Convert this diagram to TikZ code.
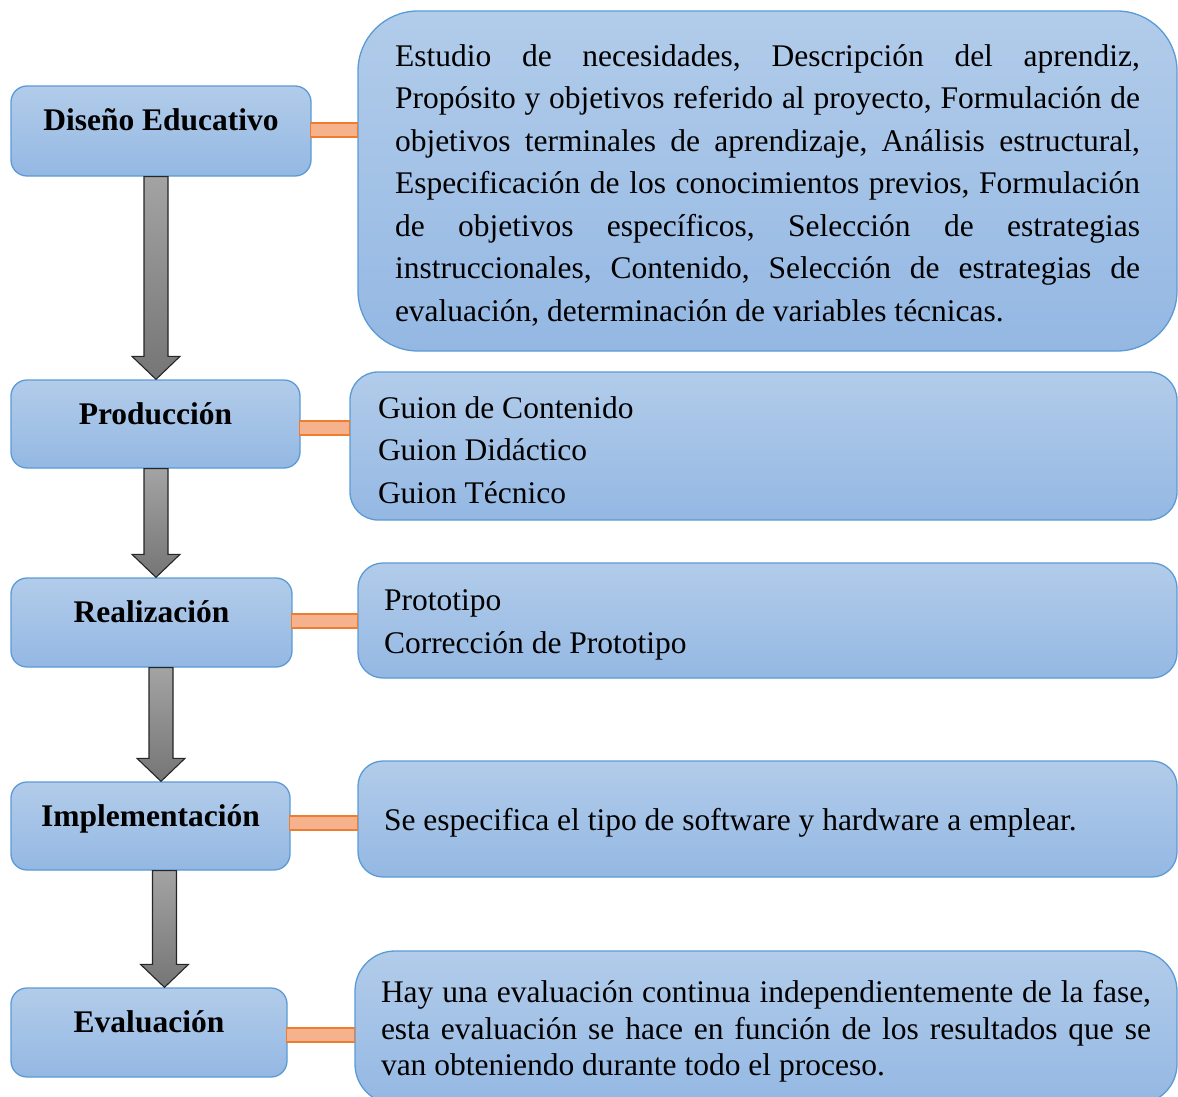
\documentclass[tikz,border=0pt]{standalone}
\usepackage{fontspec}
\setmainfont{Liberation Serif}
\usetikzlibrary{calc}
\definecolor{boxtop}{RGB}{178,204,234}
\definecolor{boxbottom}{RGB}{148,184,227}
\definecolor{boxline}{RGB}{91,155,213}
\definecolor{linkfill}{RGB}{245,178,140}
\definecolor{linkline}{RGB}{237,125,49}
\newcommand{\boxfont}{\fontsize{31.5pt}{42.5pt}\selectfont}
\setlength{\parindent}{0pt}
\tolerance=10000
\hyphenpenalty=10000
\frenchspacing

\begin{document}
\begin{tikzpicture}[x=1pt,y=-1pt,
  phase/.style={draw=boxline,line width=1.3pt,rounded corners=16pt,top color=boxtop,bottom color=boxbottom,
    font=\boxfont\bfseries,text height=20pt,text depth=20pt,inner sep=0pt},
  detail/.style={draw=boxline,line width=1.3pt,top color=boxtop,bottom color=boxbottom,
    font=\boxfont,align=flush left,inner ysep=0pt,execute at begin node={\rule{0pt}{30pt}}},
  link/.style={draw=linkline,fill=linkfill,line width=1.2pt},
  flow/.style={draw=black!85,line width=1.1pt,top color=black!36,bottom color=black!54}]
  \useasboundingbox (0,0) rectangle (1178,1097);
  \clip (0,0) rectangle (1178,1097);

  % fases
  \node[phase,minimum width=300pt,minimum height=90pt] (diseno) at (161,131) {Diseño Educativo};
  \node[phase,minimum width=289pt,minimum height=88pt] (produccion) at (155.5,424) {Producción};
  \node[phase,minimum width=281pt,minimum height=89pt] (realizacion) at (151.5,622.5) {Realización};
  \node[phase,minimum width=279pt,minimum height=88pt] (implementacion) at (150.5,826) {Implementación};
  \node[phase,minimum width=276pt,minimum height=89pt] (evaluacion) at (149,1032.5) {Evaluación};

  % detalles
  \node[detail,rounded corners=60pt,minimum width=819pt,minimum height=340pt,inner xsep=37pt,
    text width=745pt,align=justify] (estudio) at (767.5,181) {Estudio de necesidades, Descripción del aprendiz,\linebreak
    Propósito y objetivos referido al proyecto, Formulación de\linebreak
    objetivos terminales de aprendizaje, Análisis estructural,\linebreak
    Especificación de los conocimientos previos, Formulación\linebreak
    de objetivos específicos, Selección de estrategias\linebreak
    instruccionales, Contenido, Selección de estrategias de\linebreak
    evaluación, determinación de variables técnicas.};
  \node[detail,rounded corners=28pt,minimum width=827pt,minimum height=148pt,inner xsep=28pt,
    text width=771pt] (guiones) at (763.5,446) {Guion de Contenido\\Guion Didáctico\\Guion Técnico};
  \node[detail,rounded corners=25pt,minimum width=819pt,minimum height=115pt,inner xsep=26pt,
    text width=767pt] (prototipo) at (767.5,620.5) {Prototipo\\Corrección de Prototipo};
  \node[detail,rounded corners=25pt,minimum width=819pt,minimum height=116pt,inner xsep=26pt,
    text width=767pt] (software) at (767.5,819) {Se especifica el tipo de software y hardware a emplear.};
  \node[detail,rounded corners=40pt,minimum width=822pt,minimum height=153pt,inner xsep=26pt,
    text width=770pt,align=justify,font=\fontsize{31.5pt}{36.5pt}\selectfont] (continua) at (766,1027.5)
    {Hay una evaluación continua independientemente de la fase,\linebreak
    esta evaluación se hace en función de los resultados que se\linebreak
    van obteniendo durante todo el proceso.};

  % conectores
  \foreach \phasebox/\detailbox/\offset in {diseno/estudio/-1,produccion/guiones/4,realizacion/prototipo/-1.5,
    implementacion/software/-3,evaluacion/continua/2.5}{
    \draw[link] ($(\phasebox.east)+(-1,\offset-7)$) rectangle ($(\phasebox.east -| \detailbox.west)+(0,\offset+7)$);
  }

  % flechas
  \foreach \upperbox/\lowerbox/\offset in {diseno/produccion/-5,produccion/realizacion/0.5,
    realizacion/implementacion/9.5,implementacion/evaluacion/14}{
    \path[flow] let \p1=($(\upperbox.south)+(\offset,0)$), \p2=(\lowerbox.north) in
      (\x1-12pt,\y1) -- (\x1+12pt,\y1) -- (\x1+12pt,\y2+23pt) -- (\x1+24pt,\y2+23pt) -- (\x1,\y2)
      -- (\x1-24pt,\y2+23pt) -- (\x1-12pt,\y2+23pt) -- cycle;
  }
\end{tikzpicture}
\end{document}
